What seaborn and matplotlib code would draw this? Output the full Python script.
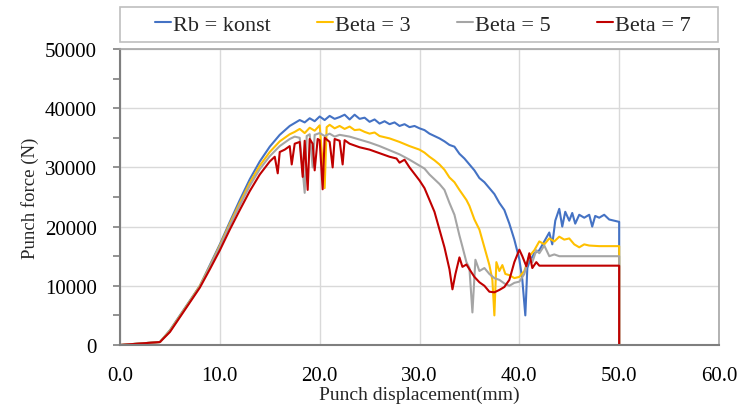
import numpy as np
import pandas as pd
import matplotlib
matplotlib.use("Agg")
import matplotlib.pyplot as plt
import seaborn as sns
from matplotlib.patches import Rectangle
from matplotlib.ticker import MultipleLocator, FormatStrFormatter

# ---------------- data ----------------
series_names = ["Rb = konst", "Beta = 3", "Beta = 5", "Beta = 7"]
series_colors = ["#4472C4", "#FFC000", "#A5A5A5", "#C00000"]

x_rb = [0, 4, 5, 6, 7, 8, 9, 10, 11, 12, 13, 14, 15, 16, 17, 17.5, 18, 18.5, 19, 19.5,
        20, 20.5, 21, 21.5, 22, 22.5, 23, 23.5, 24, 24.5, 25, 25.5, 26, 26.5, 27, 27.5,
        28, 28.5, 29, 29.5, 30, 30.5, 31, 31.5, 32, 32.5, 33, 33.5, 34, 34.5, 35, 35.5,
        36, 36.5, 37, 37.5, 38, 38.5, 39, 39.5, 40, 40.3, 40.6, 40.8, 41, 41.5, 42, 42.5,
        43, 43.3, 43.6, 44, 44.3, 44.6, 45, 45.3, 45.6, 46, 46.5, 47, 47.3, 47.6, 48,
        48.5, 49, 49.5, 50, 50]
y_rb = [0, 500, 2500, 5000, 7500, 10000, 13500, 17000, 20800, 24500, 28000, 31000, 33500,
        35500, 37000, 37500, 38000, 37600, 38300, 37800, 38600, 38000, 38700, 38200, 38500,
        38900, 38100, 38900, 38200, 38400, 37700, 38100, 37400, 37800, 37300, 37600, 37000,
        37300, 36800, 37000, 36600, 36300, 35700, 35300, 34900, 34400, 33800, 33500, 32300,
        31500, 30500, 29500, 28200, 27500, 26500, 25500, 24000, 22800, 20500, 17800, 14500,
        11000, 5000, 13000, 14000, 15500, 16000, 17500, 19000, 17000, 21000, 23000, 20000,
        22500, 21000, 22300, 20500, 22000, 21500, 22000, 20000, 21800, 21500, 22000, 21200,
        21000, 20800, 0]

x_b3 = [0, 4, 5, 6, 7, 8, 9, 10, 11, 12, 13, 14, 15, 16, 17, 17.5, 18, 18.5, 19, 19.5,
        20, 20.5, 20.7, 21, 21.5, 22, 22.5, 23, 23.5, 24, 24.5, 25, 25.5, 26, 27, 28, 29,
        30, 30.5, 31, 31.5, 32, 32.5, 33, 33.5, 34, 34.7, 35, 35.5, 36, 36.5, 37, 37.3,
        37.5, 37.7, 38, 38.3, 38.6, 39, 39.5, 40, 40.5, 41, 41.5, 42, 42.5, 43, 43.5, 44,
        44.5, 45, 45.5, 46, 46.5, 47, 48, 50, 50]
y_b3 = [0, 500, 2400, 4900, 7400, 10000, 13300, 16800, 20500, 24000, 27400, 30300, 32600,
        34400, 35600, 36000, 36500, 35800, 36700, 36200, 37100, 26500, 36800, 37200, 36600,
        37000, 36500, 36900, 36300, 36400, 36000, 35700, 35900, 35300, 34900, 34300, 33600,
        33000, 32500, 31800, 31200, 30500, 29600, 28300, 27500, 26200, 24500, 23500, 21200,
        19500, 16500, 13500, 11000, 5000, 14000, 12500, 13500, 12000, 11800, 11300, 11500,
        12500, 15000, 16000, 17500, 17000, 18000, 17500, 18300, 17800, 18000, 17000, 16500,
        17000, 16800, 16700, 16700, 0]

x_b5 = [0, 4, 5, 6, 7, 8, 9, 10, 11, 12, 13, 14, 15, 16, 17, 17.5, 18, 18.5, 18.7, 19,
        19.3, 19.5, 20, 20.5, 21, 21.5, 22, 23, 24, 25, 26, 27, 28, 29, 30, 30.5, 31, 31.5,
        32, 32.5, 33, 33.5, 34, 34.3, 34.7, 35, 35.3, 35.6, 36, 36.5, 37, 37.5, 38, 38.5,
        39, 39.5, 40, 40.5, 41, 41.3, 41.7, 42, 42.5, 43, 43.5, 44, 50, 50]
y_b5 = [0, 500, 2300, 4800, 7300, 9900, 13200, 16600, 20200, 23600, 26900, 29700, 31900,
        33600, 34800, 35200, 35000, 25700, 35300, 35600, 30000, 35500, 35800, 35300, 35700,
        35200, 35500, 35200, 34700, 34200, 33600, 32900, 32200, 31300, 30300, 29800, 28800,
        28000, 27200, 26200, 24000, 22000, 18500, 16600, 14000, 13000, 5500, 14400, 12500,
        13000, 12000, 11300, 11000, 10400, 10000, 10500, 10700, 12000, 15000, 14000, 16000,
        15500, 16800, 15000, 15300, 15000, 15000, 0]

x_b7 = [0, 4, 5, 6, 7, 8, 9, 10, 11, 12, 13, 14, 15, 15.5, 15.8, 16, 16.5, 17, 17.2, 17.5,
        18, 18.3, 18.5, 18.8, 19, 19.3, 19.5, 19.8, 20, 20.3, 20.5, 21, 21.3, 21.5, 22,
        22.3, 22.5, 23, 24, 25, 26, 27, 27.7, 28, 28.5, 29, 30, 30.5, 31, 31.5, 32, 32.5,
        33, 33.3, 33.6, 34, 34.3, 34.7, 35, 35.5, 36, 36.5, 37, 37.5, 38, 38.5, 39, 39.5,
        40, 40.3, 40.7, 41, 41.3, 41.7, 42, 50, 50]
y_b7 = [0, 500, 2200, 4700, 7200, 9700, 12800, 16000, 19500, 22800, 26000, 28800, 31000,
        31800, 29000, 32600, 33000, 33600, 30500, 34000, 34300, 28400, 34500, 26200, 34800,
        34000, 29500, 34800, 34600, 26300, 35000, 34300, 30000, 34800, 34500, 30500, 34600,
        34000, 33400, 33000, 32400, 31800, 31500, 30800, 31300, 30000, 27800, 26500, 24500,
        22500, 19500, 16500, 12800, 9400, 12000, 14800, 13200, 13600, 12800, 11500, 10600,
        10000, 9000, 8900, 9300, 9800, 11000, 14000, 16100, 15000, 13300, 15500, 13000,
        14000, 13400, 13400, 0]

x_ticks = [0, 10, 20, 30, 40, 50, 60]
y_ticks = [0, 10000, 20000, 30000, 40000, 50000]
x_label = "Punch displacement(mm)"
y_label = "Punch force (N)"

# ---------------- build table ----------------
frames = []
for name, xs, ys in zip(series_names, [x_rb, x_b3, x_b5, x_b7], [y_rb, y_b3, y_b5, y_b7]):
    frames.append(pd.DataFrame({"x": xs, "y": ys, "series": name,
                                "order": np.arange(len(xs))}))
df = pd.concat(frames, ignore_index=True)

# ---------------- plot ----------------
sns.set_theme(style="white")
plt.rcParams["font.family"] = ["Liberation Serif", "DejaVu Serif"]

fig = plt.figure(figsize=(7.42, 4.06), dpi=100)
ax = fig.add_axes([120 / 742, 1 - 346 / 406, 599 / 742, 296 / 406])

palette = dict(zip(series_names, series_colors))
for name in series_names:
    sub = df[df["series"] == name]
    sns.lineplot(data=sub, x="x", y="y", color=palette[name], sort=False,
                 estimator=None, linewidth=1.5, ax=ax, label=name, legend=False)

ax.set_xlim(0, 60)
ax.set_ylim(0, 50000)
ax.set_xticks(x_ticks)
ax.set_yticks(y_ticks)
ax.xaxis.set_major_formatter(FormatStrFormatter("%.1f"))
ax.yaxis.set_minor_locator(MultipleLocator(5000))
ax.grid(True, which="major", color="#d9d9d9", linewidth=1.0)
ax.set_axisbelow(True)

ax.tick_params(axis="y", which="both", direction="out", length=5, width=1.2,
               color="#7f7f7f", left=True, labelsize=15, pad=11.5)
ax.tick_params(axis="x", which="both", length=0, labelsize=15, pad=15)
for lab in ax.get_xticklabels() + ax.get_yticklabels():
    lab.set_color("#000000")

for side in ["left", "bottom"]:
    ax.spines[side].set_color("#7f7f7f")
    ax.spines[side].set_linewidth(1.5)
for side in ["top", "right"]:
    ax.spines[side].set_color("#a6a6a6")
    ax.spines[side].set_linewidth(1.2)

ax.set_xlabel(x_label, fontsize=14, va="center")
ax.xaxis.set_label_coords(0.5, (346 - 395) / 296)
ax.set_ylabel(y_label, fontsize=13.5, va="center")
ax.yaxis.set_label_coords((30 - 120) / 599, 0.5)

# legend box across the top
fig.patches.append(Rectangle((120 / 742, 1 - 43 / 406), 598 / 742, 35 / 406,
                             transform=fig.transFigure, fill=False,
                             edgecolor="#bfbfbf", linewidth=1.2))
handles, labels = ax.get_legend_handles_labels()
fig.legend(handles, labels, loc="center", bbox_to_anchor=(423 / 742, 1 - 25.5 / 406),
           ncol=4, frameon=False, fontsize=16, handlelength=0.7, handletextpad=0.1,
           columnspacing=2.1)

fig.savefig("out.png", dpi=100)
